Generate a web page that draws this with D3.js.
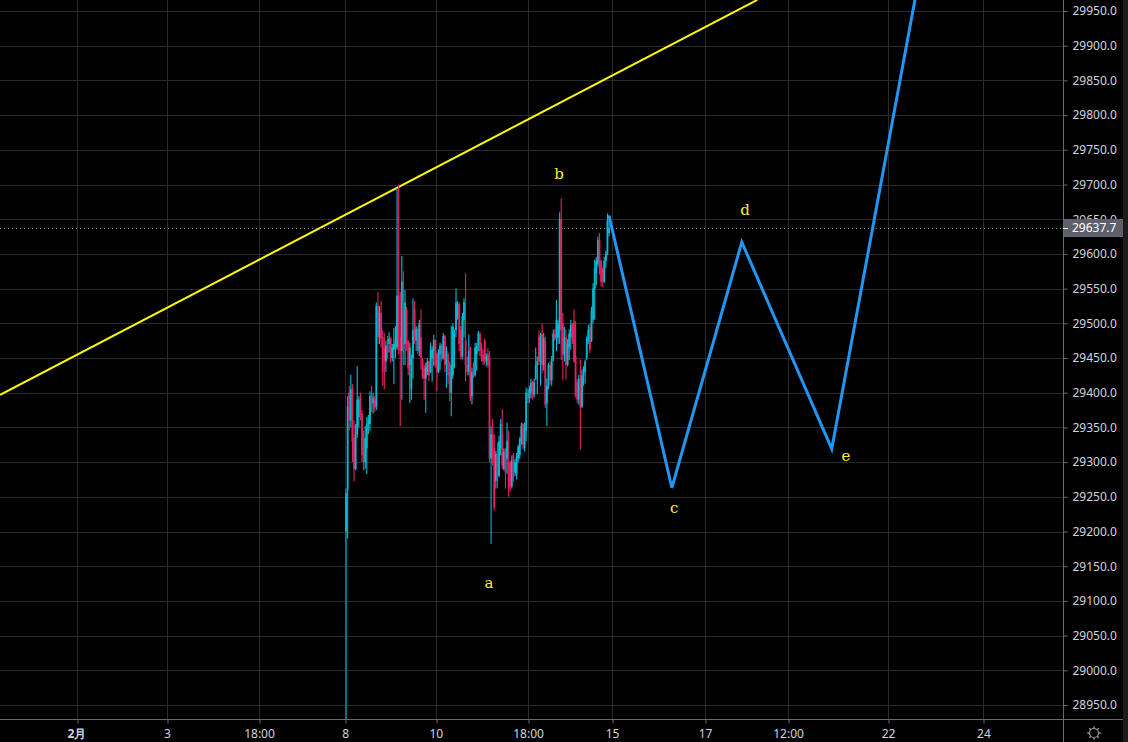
<!DOCTYPE html>
<html><head><meta charset="utf-8">
<script src="https://cdn.jsdelivr.net/npm/d3@7"></script>
<style>html,body{margin:0;padding:0;background:#000;overflow:hidden}</style>
</head><body><svg id="c" width="1128" height="742"></svg>
<script>
// ---- data (candle index 0 = first bar on the 8th) ----
const opens  = [29200,29260,29400,29360,29405,29335,29290,29340,29365,29392,29370,29315,29300,29320,29355,29355,29395,29385,29390,29380,29525,29480,29515,29480,29465,29445,29468,29470,29478,29450,29462,29465,29465,29540,29480,29460,29520,29470,29520,29475,29440,29405,29450,29520,29475,29492,29460,29480,29448,29435,29420,29430,29445,29430,29450,29460,29475,29455,29430,29455,29468,29450,29482,29440,29455,29430,29400,29425,29480,29490,29510,29528,29490,29452,29505,29475,29440,29430,29465,29395,29440,29425,29455,29468,29485,29465,29455,29475,29445,29455,29450,29305,29340,29320,29273,29312,29280,29320,29340,29290,29318,29305,29300,29300,29265,29310,29285,29282,29305,29310,29330,29355,29320,29345,29400,29392,29400,29415,29398,29420,29440,29480,29445,29485,29440,29475,29385,29410,29440,29418,29448,29485,29478,29480,29490,29650,29500,29455,29480,29440,29465,29480,29498,29502,29452,29415,29390,29400,29380,29425,29430,29450,29475,29495,29475,29505,29550,29572,29585,29620,29590,29578,29560,29590,29600,29630];
const highs  = [29262,29395,29410,29426,29412,29360,29355,29438,29395,29400,29375,29345,29352,29365,29368,29402,29410,29400,29395,29530,29545,29525,29532,29490,29486,29475,29482,29487,29480,29470,29493,29496,29695,29700,29545,29597,29575,29548,29524,29475,29472,29455,29536,29532,29496,29494,29505,29520,29450,29440,29443,29450,29446,29472,29467,29483,29477,29458,29463,29472,29470,29486,29483,29467,29458,29445,29496,29500,29491,29550,29532,29530,29496,29515,29536,29572,29452,29484,29467,29436,29445,29472,29472,29489,29488,29472,29462,29478,29457,29464,29460,29352,29362,29340,29316,29328,29338,29362,29376,29320,29320,29357,29345,29302,29310,29313,29304,29313,29325,29336,29357,29356,29357,29407,29406,29410,29420,29417,29420,29465,29452,29490,29486,29500,29486,29481,29421,29443,29445,29453,29491,29492,29534,29505,29660,29680,29515,29495,29491,29477,29491,29505,29500,29520,29503,29420,29426,29448,29433,29438,29448,29481,29498,29500,29524,29558,29592,29595,29625,29630,29592,29580,29596,29605,29658,29656];
const lows   = [28925,29190,29345,29350,29300,29272,29288,29335,29350,29360,29300,29288,29290,29283,29340,29345,29372,29370,29372,29375,29470,29470,29465,29410,29405,29430,29450,29458,29443,29445,29412,29450,29462,29455,29352,29390,29440,29440,29460,29425,29385,29390,29420,29470,29460,29455,29453,29433,29420,29390,29371,29425,29417,29428,29416,29438,29436,29402,29428,29433,29445,29448,29430,29407,29412,29388,29366,29420,29435,29480,29505,29460,29448,29448,29480,29416,29425,29425,29388,29383,29421,29423,29432,29460,29453,29445,29440,29441,29438,29436,29300,29182,29295,29230,29262,29262,29278,29310,29290,29288,29262,29283,29250,29258,29262,29272,29280,29275,29300,29305,29325,29318,29315,29330,29385,29385,29392,29390,29393,29418,29398,29440,29410,29428,29432,29378,29352,29405,29412,29410,29445,29475,29460,29470,29470,29447,29418,29445,29419,29438,29447,29462,29470,29443,29393,29385,29383,29318,29378,29410,29413,29447,29470,29457,29473,29500,29505,29555,29582,29570,29553,29552,29558,29580,29598,29625];
const closes = [29255,29380,29360,29405,29330,29290,29340,29390,29390,29368,29310,29300,29335,29355,29362,29395,29380,29392,29378,29525,29480,29515,29478,29430,29445,29468,29458,29478,29450,29465,29470,29475,29540,29480,29460,29560,29462,29530,29470,29435,29465,29450,29490,29480,29492,29462,29500,29450,29422,29420,29438,29445,29425,29462,29462,29476,29440,29430,29458,29468,29448,29482,29440,29460,29425,29400,29440,29495,29486,29530,29528,29470,29452,29510,29530,29440,29430,29460,29392,29430,29425,29465,29468,29485,29460,29450,29445,29448,29452,29440,29305,29340,29300,29235,29312,29280,29330,29355,29295,29315,29285,29330,29262,29265,29302,29278,29300,29308,29322,29333,29352,29325,29350,29400,29390,29405,29415,29395,29415,29440,29445,29445,29483,29440,29478,29382,29410,29440,29418,29448,29485,29478,29505,29500,29650,29490,29455,29480,29440,29470,29485,29498,29475,29445,29395,29390,29420,29380,29425,29435,29445,29478,29490,29462,29518,29550,29580,29590,29620,29580,29560,29560,29590,29600,29648,29637.7];
const lastPrice = 29637.7;

const priceTicks = [28950,29000,29050,29100,29150,29200,29250,29300,29350,29400,29450,29500,29550,29600,29650,29700,29750,29800,29850,29900,29950];
const timeTickIdx    = [-169.1,-112.4,-54.6,-0.6,56.3,114.2,166.9,225.2,277.3,340,399.9];
const timeTickLabels = ["2月","3","18:00","8","10","18:00","15","17","12:00","22","24"];

const trendIdx   = [-217, 258];
const trendPrice = [29397, 29966];

const waveIdx   = [165, 204.4, 248.3, 304.7, 366.5];
const wavePrice = [29655, 29263, 29617, 29319, 30085];

const waveLabels    = ["a","b","c","d","e"];
const waveLabelIdx  = [89.7, 133.6, 205.8, 250.3, 313.7];
const waveLabelPrice= [29124, 29714, 29232, 29662, 29307];

// ---- layout ----
const W=1128, H=742, PR=1063, PB=719;
const svg=d3.select("#c");
svg.append("rect").attr("width",W).attr("height",H).attr("fill","#000");

const x=d3.scaleLinear().domain([-217.1,449.8]).range([0,PR]);
const y=d3.scaleLinear().domain([28950,29950]).range([705,11]);

svg.append("defs").append("clipPath").attr("id","clip")
  .append("rect").attr("x",0).attr("y",0).attr("width",PR).attr("height",PB);

const grid=svg.append("g").attr("clip-path","url(#clip)");
grid.selectAll(".vg").data(timeTickIdx).join("line")
  .attr("x1",d=>Math.round(x(d))+0.5).attr("x2",d=>Math.round(x(d))+0.5)
  .attr("y1",0).attr("y2",PB).attr("stroke","#2a2a2a").attr("stroke-width",1);
grid.selectAll(".hg").data(priceTicks).join("line")
  .attr("x1",0).attr("x2",PR)
  .attr("y1",d=>Math.round(y(d))+0.5).attr("y2",d=>Math.round(y(d))+0.5)
  .attr("stroke","#2a2a2a").attr("stroke-width",1);

const plot=svg.append("g").attr("clip-path","url(#clip)");

// trend line
plot.append("path")
  .datum(trendIdx.map((d,i)=>[d,trendPrice[i]]))
  .attr("d",d3.line().x(d=>x(d[0])).y(d=>y(d[1])))
  .attr("fill","none").attr("stroke","#ffff00").attr("stroke-width",2);

// last price dotted line
plot.append("line").attr("x1",0).attr("x2",PR)
  .attr("y1",Math.round(y(lastPrice))+0.5).attr("y2",Math.round(y(lastPrice))+0.5)
  .attr("stroke","#8a8a8a").attr("stroke-width",1).attr("stroke-dasharray","1,3");

// candles
const UP="#00bcd4", DN="#e91e63";
const candles=opens.map((o,i)=>({i,o,h:highs[i],l:lows[i],c:closes[i]}));
const cg=plot.selectAll(".cd").data(candles).join("g");
cg.append("line")
  .attr("x1",d=>x(d.i)).attr("x2",d=>x(d.i))
  .attr("y1",d=>y(d.h)).attr("y2",d=>y(d.l))
  .attr("stroke",d=>d.c>=d.o?UP:DN).attr("stroke-width",1.1);
cg.append("rect")
  .attr("x",d=>x(d.i)-0.9).attr("width",1.8)
  .attr("y",d=>y(Math.max(d.o,d.c)))
  .attr("height",d=>Math.max(1,Math.abs(y(d.o)-y(d.c))))
  .attr("fill",d=>d.c>=d.o?UP:DN);

// projected wave
plot.append("path")
  .datum(waveIdx.map((d,i)=>[d,wavePrice[i]]))
  .attr("d",d3.line().x(d=>x(d[0])).y(d=>y(d[1])))
  .attr("fill","none").attr("stroke","#2196f3").attr("stroke-width",3)
  .attr("stroke-linejoin","miter");

// wave labels
plot.selectAll(".wl").data(waveLabels).join("text")
  .attr("x",(d,i)=>x(waveLabelIdx[i])).attr("y",(d,i)=>y(waveLabelPrice[i]))
  .attr("text-anchor","middle").attr("dominant-baseline","middle")
  .attr("fill","#ffeb3b").attr("font-family","'DejaVu Serif', serif")
  .attr("font-size",15).text(d=>d);

// axes
const FONT="'Noto Sans', sans-serif";
const yAxis=svg.append("g").attr("transform",`translate(${PR+0.5},0)`)
  .call(d3.axisRight(y).tickValues(priceTicks).tickFormat(d=>d.toFixed(1)).tickSize(4).tickPadding(5));
const xAxis=svg.append("g").attr("transform",`translate(0,${PB+0.5})`)
  .call(d3.axisBottom(x).tickValues(timeTickIdx).tickFormat((d,i)=>timeTickLabels[i]).tickSize(4).tickPadding(6));
[yAxis,xAxis].forEach(a=>{
  a.select(".domain").remove();
  a.selectAll(".tick line").attr("stroke","#6a6a6a");
  a.selectAll(".tick text").attr("fill","#d1d4dc").attr("font-family",FONT).attr("font-size",12);
});
xAxis.selectAll(".tick text").filter((d,i)=>i===0).attr("font-weight","bold");
xAxis.selectAll(".tick line").attr("transform",d=>`translate(${Math.round(x(d))+0.5-x(d)},0)`);

// axis lines
svg.append("line").attr("x1",PR+0.5).attr("x2",PR+0.5).attr("y1",0).attr("y2",H).attr("stroke","#6a6a6a");
svg.append("line").attr("x1",0).attr("x2",1123).attr("y1",PB+0.5).attr("y2",PB+0.5).attr("stroke","#6a6a6a");
svg.append("rect").attr("x",1123).attr("y",0).attr("width",5).attr("height",H).attr("fill","#1c1c1c");

// last price label
const ly=y(lastPrice);
svg.append("rect").attr("x",PR+1).attr("y",Math.round(ly)-9).attr("width",59).attr("height",18).attr("fill","#5d606b");
svg.append("line").attr("x1",PR).attr("x2",PR+5).attr("y1",Math.round(ly)+0.5).attr("y2",Math.round(ly)+0.5).attr("stroke","#ffffff");
svg.append("text").attr("x",PR+9).attr("y",ly).attr("dy","0.35em")
  .attr("fill","#ffffff").attr("font-family",FONT).attr("font-size",12).text(lastPrice.toFixed(1));

// settings gear
const gear=svg.append("g").attr("transform","translate(1094,733)").attr("stroke","#9a9a9a").attr("fill","none");
gear.append("circle").attr("r",4.5).attr("stroke-width",1.2);
d3.range(8).forEach(k=>{
  const a=k*Math.PI/4;
  gear.append("line").attr("x1",Math.cos(a)*4.5).attr("y1",Math.sin(a)*4.5)
    .attr("x2",Math.cos(a)*6.8).attr("y2",Math.sin(a)*6.8).attr("stroke-width",1.3);
});
</script></body></html>
